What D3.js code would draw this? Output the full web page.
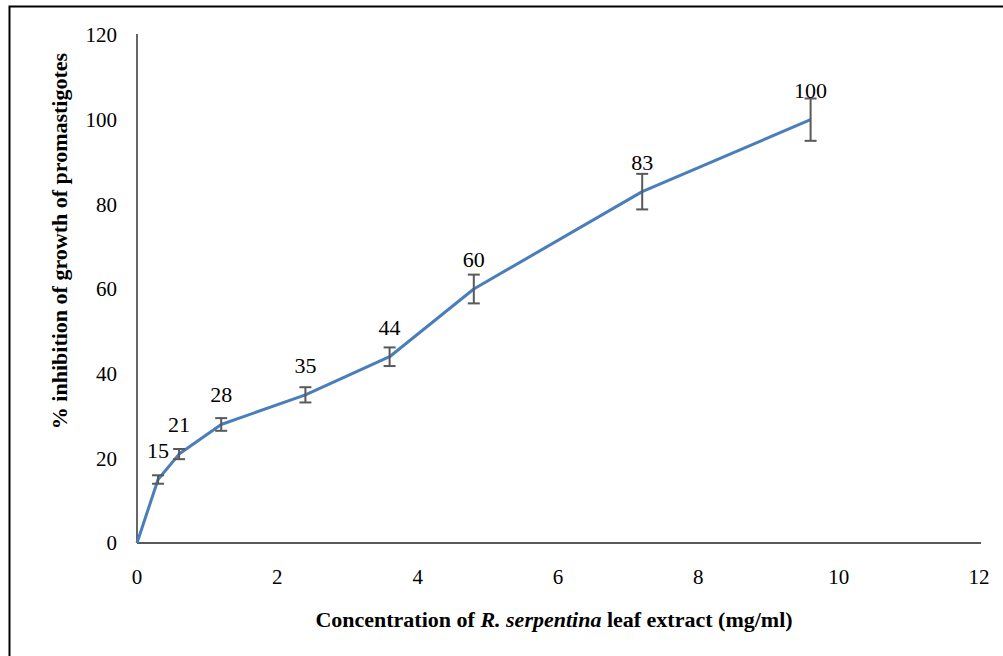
<!DOCTYPE html>
<html>
<head>
<meta charset="utf-8">
<script src="https://cdn.jsdelivr.net/npm/d3@7"></script>
<style>
  body { margin: 0; background: #fff; }
  svg text { font-family: "Liberation Serif", "Times New Roman", serif; }
</style>
</head>
<body>
<div id="chart"></div>
<script>
// concentration (mg/ml), % inhibition and its error
const concentration = [0, 0.3, 0.6, 1.2, 2.4, 3.6, 4.8, 7.2, 9.6];
const inhibition = [0, 15, 21, 28, 35, 44, 60, 83, 100];
const errors = [0, 1, 1.2, 1.5, 1.8, 2.2, 3.4, 4.2, 5];
const xTicks = [0, 2, 4, 6, 8, 10, 12];
const yTicks = [0, 20, 40, 60, 80, 100, 120];

const width = 1003, height = 656;
const margin = {top: 35, right: 24, bottom: 113, left: 137};

const svg = d3.select("#chart").append("svg")
  .attr("width", width)
  .attr("height", height);

// outer frame (left and top edges visible)
svg.append("path")
  .attr("d", `M9.5,${height} V6.5 H${width}`)
  .attr("fill", "none")
  .attr("stroke", "#000")
  .attr("stroke-width", 2);

const x = d3.scaleLinear().domain([0, 12]).range([margin.left, width - margin.right]);
const y = d3.scaleLinear().domain([0, 120]).range([height - margin.bottom, margin.top]);

// y axis
svg.append("line")
  .attr("x1", x(0)).attr("x2", x(0))
  .attr("y1", y(120) - 1).attr("y2", y(0))
  .attr("stroke", "#000").attr("stroke-width", 1.2);

// x axis
svg.append("line")
  .attr("x1", x(0)).attr("x2", x(12) + 2)
  .attr("y1", y(0)).attr("y2", y(0))
  .attr("stroke", "#595959").attr("stroke-width", 2);

svg.append("g").selectAll("text")
  .data(yTicks).enter().append("text")
  .attr("x", x(0) - 20)
  .attr("y", d => y(d))
  .attr("dy", "0.35em")
  .attr("text-anchor", "end")
  .attr("font-size", 21)
  .text(d => d);

svg.append("g").selectAll("text")
  .data(xTicks).enter().append("text")
  .attr("x", d => x(d))
  .attr("y", y(0) + 41)
  .attr("text-anchor", "middle")
  .attr("font-size", 21)
  .text(d => d);

const points = concentration.map((c, i) => ({c, v: inhibition[i], e: errors[i]}));

// line
svg.append("path")
  .datum(points)
  .attr("fill", "none")
  .attr("stroke", "#4a7ebb")
  .attr("stroke-width", 3)
  .attr("stroke-linejoin", "round")
  .attr("d", d3.line().x(d => x(d.c)).y(d => y(d.v)));

// error bars
const eb = svg.append("g")
  .attr("stroke", "#595959")
  .attr("stroke-width", 2)
  .selectAll("g")
  .data(points.filter(d => d.e > 0)).enter().append("g");

eb.append("line")
  .attr("x1", d => x(d.c)).attr("x2", d => x(d.c))
  .attr("y1", d => y(d.v + d.e)).attr("y2", d => y(d.v - d.e));
eb.append("line")
  .attr("x1", d => x(d.c) - 6).attr("x2", d => x(d.c) + 6)
  .attr("y1", d => y(d.v + d.e)).attr("y2", d => y(d.v + d.e));
eb.append("line")
  .attr("x1", d => x(d.c) - 6).attr("x2", d => x(d.c) + 6)
  .attr("y1", d => y(d.v - d.e)).attr("y2", d => y(d.v - d.e));

// data labels
svg.append("g").selectAll("text")
  .data(points.filter(d => d.v > 0)).enter().append("text")
  .attr("x", d => x(d.c))
  .attr("y", d => y(d.v) - 22)
  .attr("text-anchor", "middle")
  .attr("font-size", 22)
  .text(d => d.v);

// axis titles
const xt = svg.append("text")
  .attr("x", 554)
  .attr("y", 627)
  .attr("text-anchor", "middle")
  .attr("font-size", 22)
  .attr("font-weight", "bold");
xt.append("tspan").text("Concentration of ");
xt.append("tspan").attr("font-style", "italic").text("R. serpentina");
xt.append("tspan").text(" leaf extract (mg/ml)");

svg.append("text")
  .attr("transform", "translate(67,241) rotate(-90)")
  .attr("text-anchor", "middle")
  .attr("font-size", 22)
  .attr("font-weight", "bold")
  .text("% inhibition of growth of promastigotes");
</script>
</body>
</html>
